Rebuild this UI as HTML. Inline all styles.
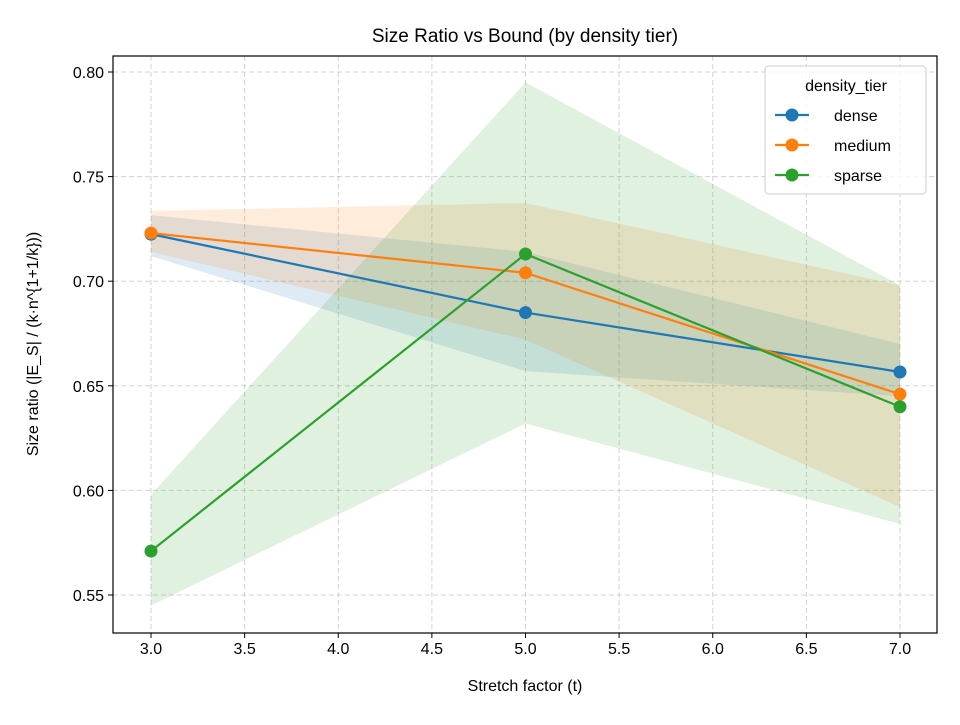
<!DOCTYPE html>
<html><head><meta charset="utf-8"><style>
body{margin:0;background:#fff}
svg text{font-family:"Liberation Sans","DejaVu Sans",sans-serif;fill:#000}
</style></head><body>
<svg id="chart" width="960" height="720"></svg>
<script>
const xs=[3,5,7];
const seriesNames=["dense","medium","sparse"];
const denseMean=[0.7225,0.685,0.6566];
const denseLo=[0.712,0.657,0.645];
const denseHi=[0.7316,0.714,0.670];
const mediumMean=[0.723,0.704,0.646];
const mediumLo=[0.714,0.672,0.592];
const mediumHi=[0.7336,0.7374,0.698];
const sparseMean=[0.571,0.713,0.640];
const sparseLo=[0.545,0.632,0.584];
const sparseHi=[0.598,0.795,0.698];
const xTicks=[3.0,3.5,4.0,4.5,5.0,5.5,6.0,6.5,7.0];
const yTicks=[0.55,0.60,0.65,0.70,0.75,0.80];
const colors=["#1f77b4","#ff7f0e","#2ca02c"];
const NS="http://www.w3.org/2000/svg";
const svg=document.getElementById('chart');
const L=113,R=937,T=56,B=633;
function X(v){return 151+(v-3)*187.25;}
function Y(v){return 72+(0.80-v)*2092;}
function el(tag,attrs,parent){const e=document.createElementNS(NS,tag);for(const k in attrs)e.setAttribute(k,attrs[k]);(parent||svg).appendChild(e);return e;}
xTicks.forEach(t=>{const g=el('line',{x1:X(t),x2:X(t),y1:T,y2:B,stroke:'#b0b0b0','stroke-width':1,'stroke-dasharray':'5,3',opacity:0.55});

});
yTicks.forEach(t=>{const g=el('line',{x1:L,x2:R,y1:Y(t),y2:Y(t),stroke:'#b0b0b0','stroke-width':1,'stroke-dasharray':'5,3',opacity:0.55});

});
const means=[denseMean,mediumMean,sparseMean],los=[denseLo,mediumLo,sparseLo],his=[denseHi,mediumHi,sparseHi];
for(let s=0;s<3;s++){
 let pts=xs.map((x,i)=>X(x)+','+Y(his[s][i]));
 pts=pts.concat(xs.map((x,i)=>X(x)+','+Y(los[s][i])).reverse());
 const p=el('polygon',{points:pts.join(' '),fill:colors[s],'fill-opacity':0.15});
 
 
}
for(let s=0;s<3;s++){
 const l=el('polyline',{points:xs.map((x,i)=>X(x)+','+Y(means[s][i])).join(' '),fill:'none',stroke:colors[s],'stroke-width':2.2});
 
 
 xs.forEach((x,i)=>{const c=el('circle',{cx:X(x),cy:Y(means[s][i]),r:6.5,fill:colors[s]});
 
 });
}
const fr=el('rect',{x:L,y:T,width:R-L,height:B-T,fill:'none',stroke:'#000','stroke-width':1.2});


xTicks.forEach(t=>{el('line',{x1:X(t),x2:X(t),y1:B,y2:B+5,stroke:'#000'});
const tx=el('text',{x:X(t),y:B+21,'text-anchor':'middle','font-size':16});tx.textContent=t.toFixed(1);

});
yTicks.forEach(t=>{el('line',{x1:L-5,x2:L,y1:Y(t),y2:Y(t),stroke:'#000'});
const tx=el('text',{x:L-9,y:Y(t)+6,'text-anchor':'end','font-size':16});tx.textContent=t.toFixed(2);

});
let t=el('text',{x:525,y:42,'text-anchor':'middle','font-size':19});t.textContent='Size Ratio vs Bound (by density tier)';


t=el('text',{x:525,y:691,'text-anchor':'middle','font-size':16});t.textContent='Stretch factor (t)';


t=el('text',{x:38,y:344,'text-anchor':'middle','font-size':16,transform:'rotate(-90 38 344)'});t.textContent='Size ratio (|E_S| / (k·n^{1+1/k}))';


const lg=el('rect',{x:765,y:66,width:161,height:128,rx:4,fill:'#fff','fill-opacity':0.8,stroke:'#ccc'});


t=el('text',{x:846,y:91,'text-anchor':'middle','font-size':16});t.textContent='density_tier';


seriesNames.forEach((n,i)=>{const y=115+i*30;
el('line',{x1:775,x2:809,y1:y,y2:y,stroke:colors[i],'stroke-width':2.2});
el('circle',{cx:792,cy:y,r:6.5,fill:colors[i]});
const tx=el('text',{x:834,y:y+6,'font-size':16});tx.textContent=n;

});
</script>
</body></html>
